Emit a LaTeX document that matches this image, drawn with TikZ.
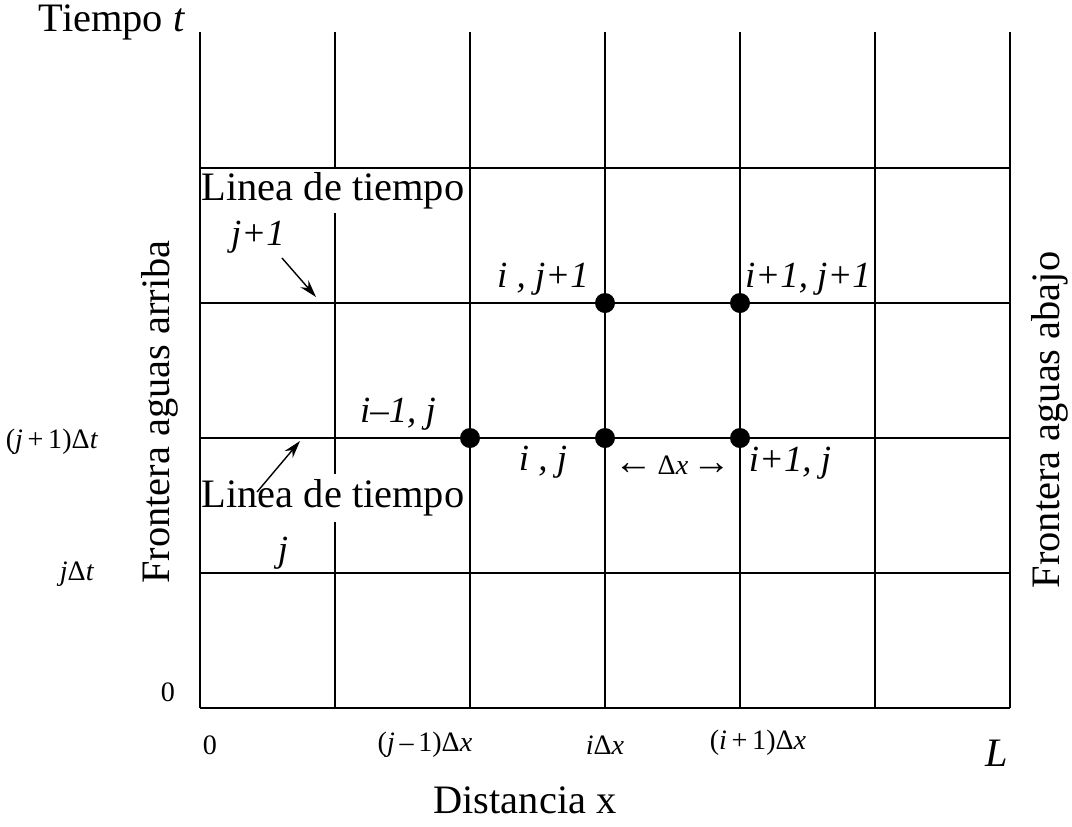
\documentclass[tikz,border=0pt]{standalone}
\usepackage{fontspec}
\setmainfont{Liberation Serif}
\usetikzlibrary{arrows.meta}
\begin{document}
\begin{tikzpicture}[x=0.02cm,y=-0.02cm,
  grid/.style={line width=1.1pt},
  big/.style={font=\fontsize{23}{26}\selectfont, inner sep=1pt},
  lab/.style={font=\fontsize{21}{24}\selectfont\itshape, inner sep=1pt},
  axl/.style={font=\fontsize{16}{19}\selectfont, inner sep=1pt},
  pt/.style={circle, fill=black, inner sep=0pt, minimum size=0.4cm},
  pointer/.style={-{Stealth[length=10pt,width=6pt]}, line width=0.8pt}]
\useasboundingbox (0,0) rectangle (1072,826);
% the vertical line that the texts mask
\draw[grid] (335,32) -- (335,708);
% texts that mask it
\node[big, fill=white, inner sep=2pt] (l1) at (333,191) {Linea de tiempo};
\node[big, fill=white, inner sep=3pt] (l2) at (333,498) {Linea de tiempo};
% other vertical grid lines
\foreach \x in {200,470,605,740,875,1010} \draw[grid] (\x,32) -- (\x,708);
% horizontal grid lines
\foreach \y in {168,303,438,573,708} \draw[grid] (200,\y) -- (1010,\y);
% texts
\node[big] (tt) at (112,22) {Tiempo \textit{t}};
\node[lab] (j1) at (258,237) {j+1};
\node[lab] (j0) at (283,553) {j};
\coordinate (a1s) at (282,258);
\coordinate (a1e) at (316,297);
\coordinate (a2s) at (257,492);
\coordinate (a2e) at (300,441);
\draw[pointer] (a1s) -- (a1e);
\draw[pointer] (a2s) -- (a2e);
% points
\node[pt] (p1) at (605,303) {};
\node[pt] (p2) at (740,303) {};
\node[pt] (p3) at (470,438) {};
\node[pt] (p4) at (605,438) {};
\node[pt] (p5) at (740,438) {};
\node[lab] (t1) at (543,279) {i , j+1};
\node[lab] (t2) at (808,279) {i+1, j+1};
\node[lab] (t3) at (398,414) {i–1, j};
\node[lab] (t4) at (543,462) {i , j};
\node[axl] (t5) at (673,465) {{\fontsize{22}{22}\selectfont←}\,Δ\textit{x}\,{\fontsize{22}{22}\selectfont→}};
\node[lab] (t6) at (790,463) {i+1, j};
% left axis labels
\node[axl] (y1) at (52,442) {(\textit{j}\,+\,1)Δ\textit{t}};
\node[axl] (y2) at (77,574) {\textit{j}Δ\textit{t}};
\node[axl] (y3) at (168,692) {0};
\node[big, rotate=90] (fl) at (160,412) {Frontera aguas arriba};
\node[big, rotate=90] (fr) at (1050,420) {Frontera aguas abajo};
% bottom axis labels
\node[axl] (x0) at (210,745) {0};
\node[axl] (x1) at (425,745) {(\textit{j}\,–\,1)Δ\textit{x}};
\node[axl] (x2) at (605,745) {\textit{i}Δ\textit{x}};
\node[axl] (x3) at (758,743) {(\textit{i}\,+\,1)Δ\textit{x}};
\node[big] (xL) at (997,753) {\textit{L}};
\node[big] (dx) at (525,800) {Distancia x};
\end{tikzpicture}
\end{document}
